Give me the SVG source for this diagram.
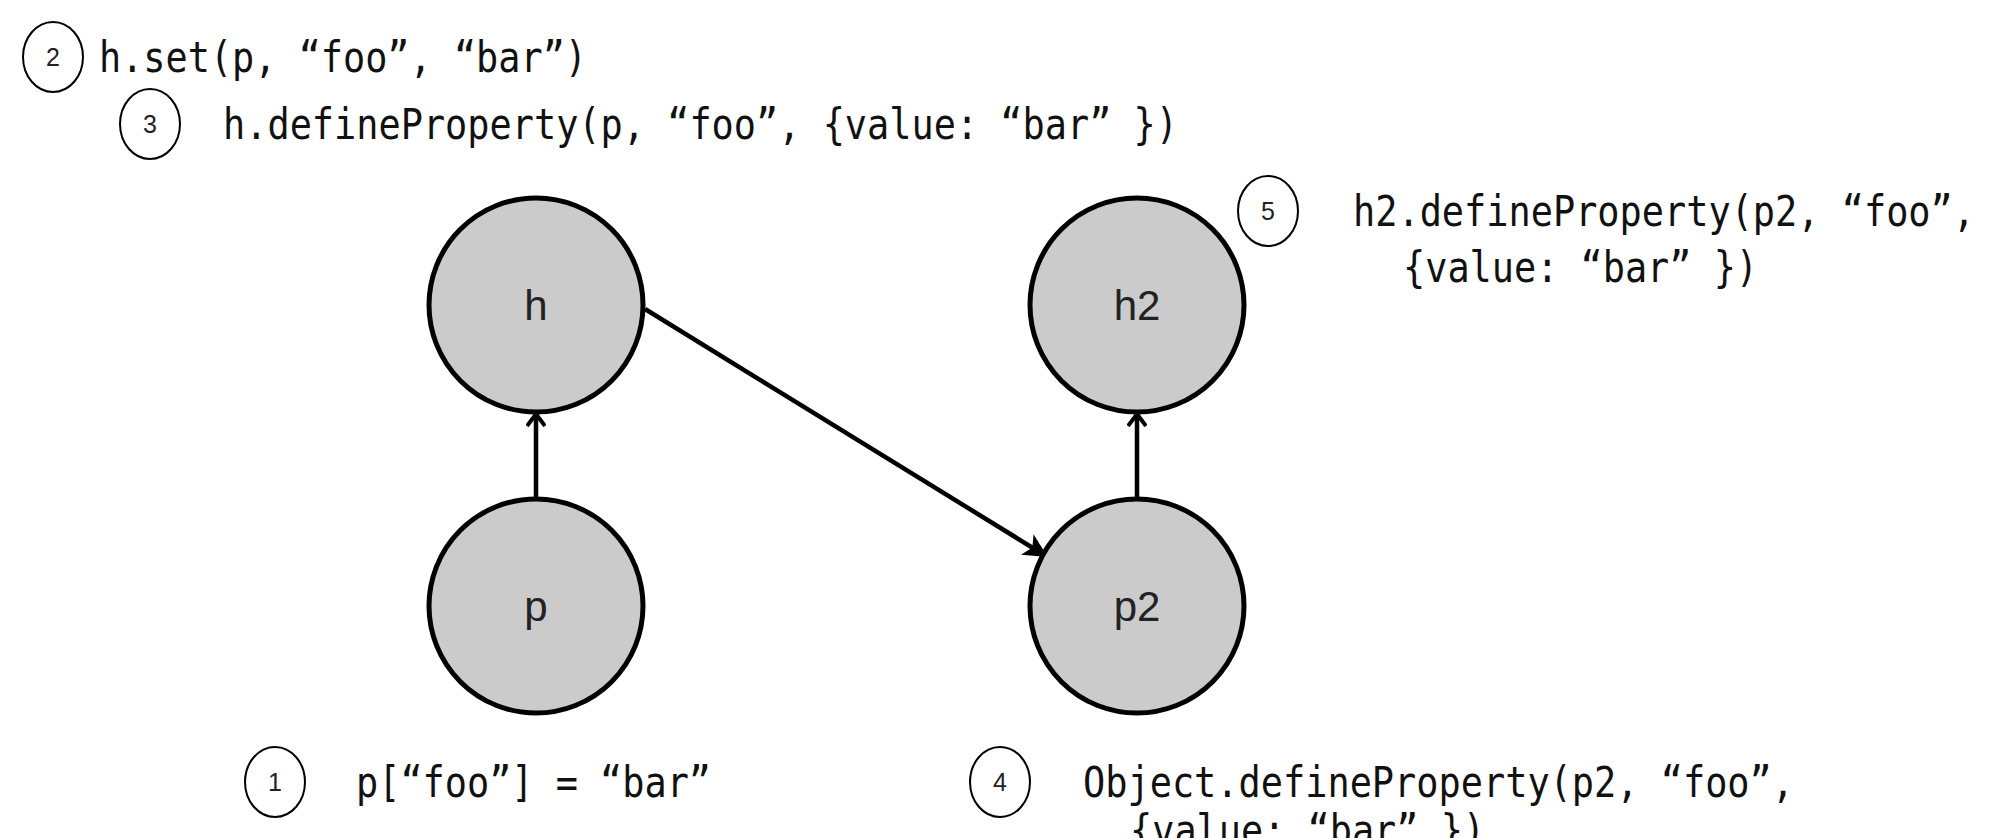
<svg xmlns="http://www.w3.org/2000/svg" width="1996" height="838" viewBox="0 0 1996 838">
  <style>
    .node { fill: #cbcbcb; stroke: #000; stroke-width: 5; }
    .lbl { font-family: "Liberation Sans", Arial, sans-serif; font-size: 42px; fill: #222; text-anchor: middle; }
    .num { fill: none; stroke: #000; stroke-width: 2; }
    .numt { font-family: "Liberation Sans", Arial, sans-serif; font-size: 25px; fill: #222; text-anchor: middle; }
    .code { font-family: "DejaVu Sans Mono", "Liberation Mono", monospace; font-size: 42px; fill: #111; }
    .edge { stroke: #000; stroke-width: 4.5; fill: none; }
  </style>
  <defs>
    <marker id="open" viewBox="0 0 14 20" refX="13" refY="10" markerWidth="14" markerHeight="20" markerUnits="userSpaceOnUse" orient="auto">
      <path d="M1,1 L13,10 L1,19" fill="none" stroke="#000" stroke-width="4"/>
    </marker>
    <marker id="solid" viewBox="0 0 24 24" refX="22" refY="12" markerWidth="24" markerHeight="24" markerUnits="userSpaceOnUse" orient="auto">
      <path d="M0,0 L24,12 L0,24 L6,12 Z" fill="#000"/>
    </marker>
  </defs>

  <g id="connectors">
    <line class="edge" x1="536" y1="499" x2="536" y2="414" marker-end="url(#open)"/>
    <line class="edge" x1="1137" y1="499" x2="1137" y2="414" marker-end="url(#open)"/>
    <line class="edge" x1="645" y1="309" x2="1046" y2="556" marker-end="url(#solid)"/>
  </g>

  <g id="node-h">
    <circle class="node" cx="536" cy="305" r="107"/>
    <text class="lbl" x="536" y="320">h</text>
  </g>
  <g id="node-p">
    <circle class="node" cx="536" cy="606" r="107"/>
    <text class="lbl" x="536" y="621">p</text>
  </g>
  <g id="node-h2">
    <circle class="node" cx="1137" cy="305" r="107"/>
    <text class="lbl" x="1137" y="320">h2</text>
  </g>
  <g id="node-p2">
    <circle class="node" cx="1137" cy="606" r="107"/>
    <text class="lbl" x="1137" y="621">p2</text>
  </g>

  <g id="step-2">
    <ellipse class="num" cx="53" cy="57" rx="30" ry="35"/>
    <text class="numt" x="53" y="66">2</text>
    <text class="code" x="99" y="72" textLength="488" lengthAdjust="spacingAndGlyphs">h.set(p, “foo”, “bar”)</text>
  </g>
  <g id="step-3">
    <ellipse class="num" cx="150" cy="124" rx="30" ry="35"/>
    <text class="numt" x="150" y="133">3</text>
    <text class="code" x="223" y="139" textLength="955" lengthAdjust="spacingAndGlyphs">h.defineProperty(p, “foo”, {value: “bar” })</text>
  </g>
  <g id="step-5">
    <ellipse class="num" cx="1268" cy="211" rx="30" ry="35"/>
    <text class="numt" x="1268" y="220">5</text>
    <text class="code" x="1353" y="226" textLength="622" lengthAdjust="spacingAndGlyphs">h2.defineProperty(p2, “foo”,</text>
    <text class="code" x="1403" y="282" textLength="355" lengthAdjust="spacingAndGlyphs">{value: “bar” })</text>
  </g>
  <g id="step-1">
    <ellipse class="num" cx="275" cy="782" rx="30" ry="35"/>
    <text class="numt" x="275" y="791">1</text>
    <text class="code" x="356" y="797" textLength="355" lengthAdjust="spacingAndGlyphs">p[“foo”] = “bar”</text>
  </g>
  <g id="step-4">
    <ellipse class="num" cx="1000" cy="782" rx="30" ry="35"/>
    <text class="numt" x="1000" y="791">4</text>
    <text class="code" x="1083" y="797" textLength="711" lengthAdjust="spacingAndGlyphs">Object.defineProperty(p2, “foo”,</text>
    <text class="code" x="1130" y="845" textLength="355" lengthAdjust="spacingAndGlyphs">{value: “bar” })</text>
  </g>
</svg>
